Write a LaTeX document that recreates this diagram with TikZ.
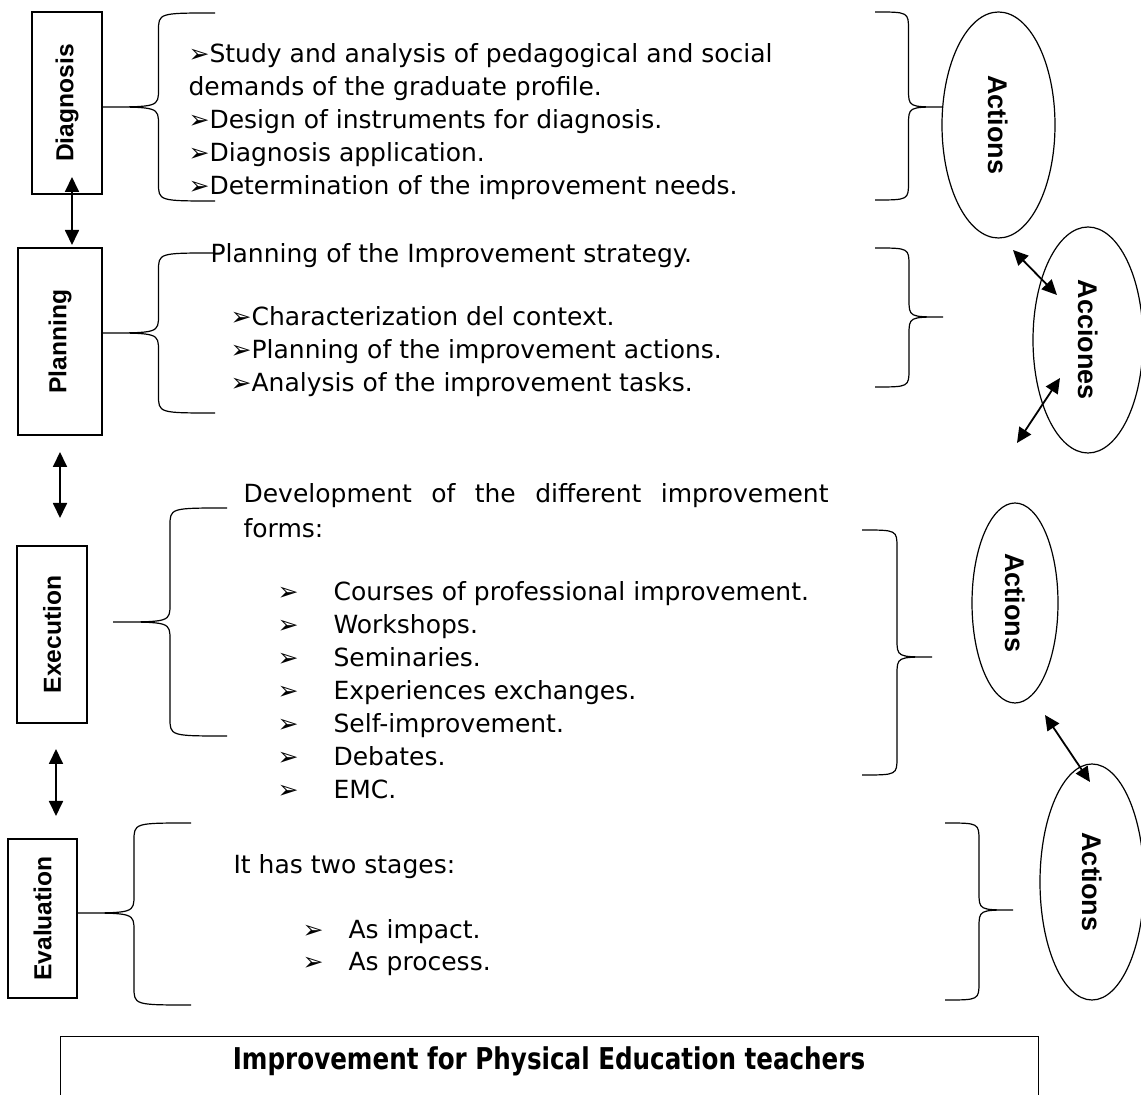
\documentclass[tikz,border=0pt]{standalone}
\usepackage{fontspec}
\setmainfont{DejaVu Sans}
\newfontfamily\labelfont{Liberation Sans}
\newfontfamily\titlefont[FakeStretch=0.82]{DejaVu Sans}
\usetikzlibrary{arrows.meta,shapes.geometric}

% llave: punta x, punta y, extremo x, arriba y, abajo y
\newcommand{\curly}[5]{%
  \draw[brace] (#3,#4) .. controls ({(#1+#3)/2},#4) .. ({(#1+#3)/2},{#4+18})
    -- ({(#1+#3)/2},{#2-18}) .. controls ({(#1+#3)/2},#2) .. (#1,#2)
    .. controls ({(#1+#3)/2},#2) .. ({(#1+#3)/2},{#2+18})
    -- ({(#1+#3)/2},{#5-18}) .. controls ({(#1+#3)/2},#5) .. (#3,#5);}

\begin{document}
\begin{tikzpicture}[x=0.5pt, y=-0.5pt, line width=0.6pt,
    stage/.style={draw, rectangle, rotate=90, inner sep=0pt,
      font=\labelfont\bfseries\fontsize{12.3}{14}\selectfont},
    act/.style={draw, ellipse, rotate=-90, inner sep=0pt,
      font=\labelfont\bfseries\fontsize{13.5}{15}\selectfont},
    body/.style={anchor=base west, inner sep=0pt,
      font=\fontsize{12.5}{15}\selectfont},
    dbl/.style={{Triangle[length=7.5pt,width=7pt]}-{Triangle[length=7.5pt,width=7pt]}, line width=0.9pt},
    brace/.style={line width=0.6pt}]
    \useasboundingbox (0,0) rectangle (1141,1095);

    % Etapas
    \node[stage, minimum width=91pt, minimum height=35pt] (diag) at (67,103) {Diagnosis};
    \node[stage, minimum width=93.5pt, minimum height=42pt] (plan) at (60,341.5) {Planning};
    \node[stage, minimum width=88.5pt, minimum height=35pt] (exec) at (52,634.5) {Execution};
    \node[stage, minimum width=79.5pt, minimum height=34.5pt] (eval) at (42.5,918.5) {Evaluation};

    % Flechas entre etapas
    \coordinate (a1) at (72,177); \coordinate (a2) at (72,245);
    \coordinate (b1) at (60,452); \coordinate (b2) at (60,518);
    \coordinate (c1) at (56,749); \coordinate (c2) at (56,816);
    \draw[dbl] (a1) -- (a2);
    \draw[dbl] (b1) -- (b2);
    \draw[dbl] (c1) -- (c2);

    % Llaves izquierdas
    \curly{102}{107}{215}{13}{201}
    \curly{102}{333}{215}{253}{413}
    \curly{113}{622}{227}{508}{736}
    \curly{77}{913}{191}{823}{1005}

    % Llaves derechas
    \curly{942}{107}{875}{12}{200}
    \curly{943}{317}{875}{248}{387}
    \curly{932}{657}{862}{530}{775}
    \curly{1013}{910}{945}{823}{1000}

    % Textos
    \foreach \txt [count=\i] in {{➢Study and analysis of pedagogical and social},
        {demands of the graduate profile.},{➢Design of instruments for diagnosis.},
        {➢Diagnosis application.},{➢Determination of the improvement needs.}}
      \node[body] (d\i) at (188,{30+33*\i}) {\txt};

    \node[body] (p0) at (210,263) {Planning of the Improvement strategy.};
    \foreach \txt [count=\i] in {{➢Characterization del context.},
        {➢Planning of the improvement actions.},{➢Analysis of the improvement tasks.}}
      \node[body] (p\i) at (230,{293+33*\i}) {\txt};

    \node[body] (e0) at (243,503) {\makebox[292.5pt][s]{Development of the different improvement}};
    \node[body] (e00) at (243,538) {forms:};
    \foreach \txt [count=\i] in {{Courses of professional improvement.},{Workshops.},
        {Seminaries.},{Experiences exchanges.},{Self-improvement.},{Debates.},{EMC.}}
      \node[body] (e\i) at (277,{568+33*\i}) {\makebox[28pt][l]{➢}\txt};

    \node[body] (v0) at (233,874) {It has two stages:};
    \foreach \txt [count=\i] in {{As impact.},{As process.}}
      \node[body] (v\i) at (302,{905+33*\i}) {\makebox[23pt][l]{➢}\txt};

    % Acciones
    \node[act, minimum width=113pt, minimum height=56.5pt] (act1) at (998.5,125) {Actions};
    \node[act, minimum width=113pt, minimum height=55pt] (acc) at (1088,340) {Acciones};
    \node[act, minimum width=100pt, minimum height=43pt] (act3) at (1015,603) {Actions};
    \node[act, minimum width=118pt, minimum height=52pt] (act4) at (1092,882) {Actions};

    \coordinate (r1) at (1013,250); \coordinate (r2) at (1057,295);
    \coordinate (s1) at (1060,378); \coordinate (s2) at (1017,443);
    \coordinate (t1) at (1045,715); \coordinate (t2) at (1090,782);
    \draw[dbl] (r1) -- (r2);
    \draw[dbl] (s1) -- (s2);
    \draw[dbl] (t1) -- (t2);

    % Titulo
    \node[draw, anchor=north west, inner sep=0pt, minimum width=489pt, minimum height=50pt] (frame) at (60,1036) {};
    \node[font=\titlefont\bfseries\fontsize{15}{18}\selectfont] (title) at (549,1061) {Improvement for Physical Education teachers};
\end{tikzpicture}
\end{document}
